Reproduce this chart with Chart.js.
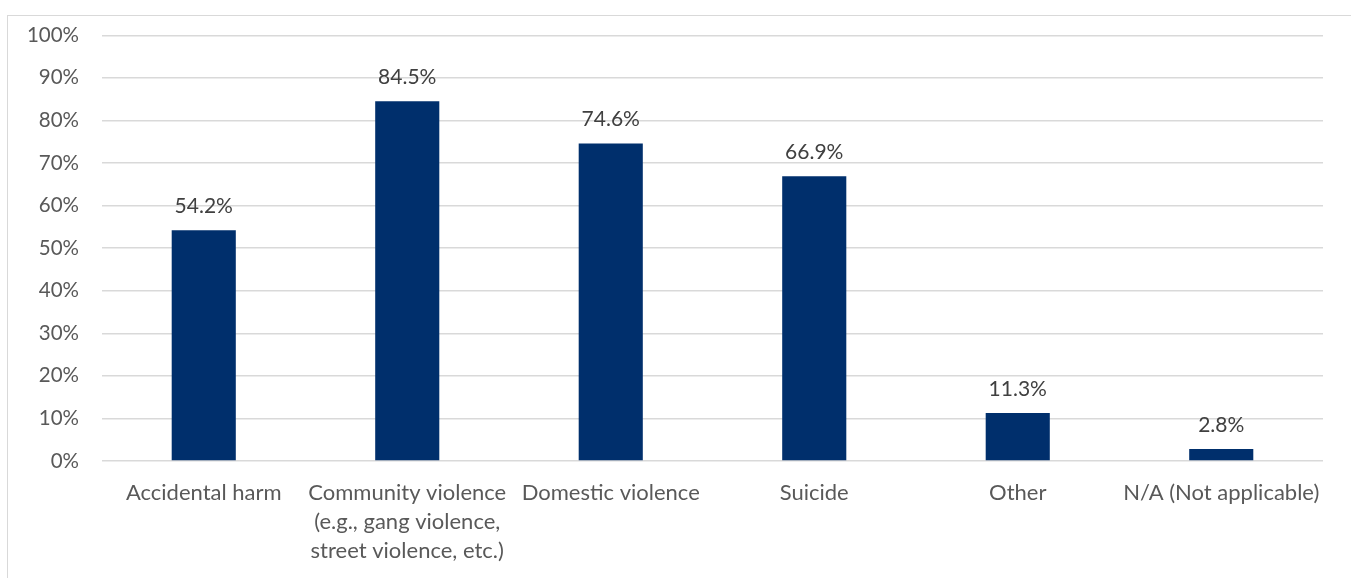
<!DOCTYPE html>
<html lang="en">
<head>
  <meta charset="UTF-8">
  <title>Types of violence</title>
  <style>
    html, body { margin: 0; padding: 0; background: #fff; }
    body { width: 1351px; height: 578px; position: relative; overflow: hidden; }
    .frame { position: absolute; left: 7px; top: 15px; width: 1400px; height: 620px; border: 1px solid #d9d9d9; }
    .wrap { position: absolute; left: 0; top: 0; width: 1351px; height: 578px; }
  </style>
</head>
<body>
  <div class="frame"></div>
  <div class="wrap"><canvas id="myChart"></canvas></div>

  <script src="https://cdn.jsdelivr.net/npm/chart.js"></script>
  <script>
    // chart data
    const categories = [
      'Accidental harm',
      ['Community violence', '(e.g., gang violence,', 'street violence, etc.)'],
      'Domestic violence',
      'Suicide',
      'Other',
      'N/A (Not applicable)'
    ];
    const percents = [54.2, 84.5, 74.6, 66.9, 11.3, 2.8];
    const yTicks = [0, 10, 20, 30, 40, 50, 60, 70, 80, 90, 100];

    const fontFamily = 'Lato, "Open Sans", sans-serif';

    // draws the value above each bar
    const valueLabels = {
      id: 'valueLabels',
      afterDatasetsDraw(chart) {
        const ctx = chart.ctx;
        const meta = chart.getDatasetMeta(0);
        ctx.save();
        ctx.font = '21px ' + fontFamily;
        ctx.fillStyle = '#404040';
        ctx.textAlign = 'center';
        ctx.textBaseline = 'alphabetic';
        meta.data.forEach((bar, i) => {
          ctx.fillText(percents[i].toFixed(1) + '%', bar.x, bar.y - 17);
        });
        ctx.restore();
      }
    };

    const ctx = document.getElementById('myChart').getContext('2d');
    const myChart = new Chart(ctx, {
      type: 'bar',
      data: {
        labels: categories,
        datasets: [{
          data: percents,
          backgroundColor: '#002F6C',
          barPercentage: 0.315,
          categoryPercentage: 1
        }]
      },
      options: {
        responsive: true,
        maintainAspectRatio: false,
        animation: false,
        layout: { padding: { left: 0, right: 28, top: 35, bottom: 0 } },
        plugins: {
          legend: { display: false },
          tooltip: { enabled: false }
        },
        scales: {
          y: {
            min: 0,
            max: 100,
            afterFit(scale) { scale.width = 102; },
            afterBuildTicks(scale) { scale.ticks = yTicks.map(v => ({ value: v })); },
            border: { display: false },
            grid: { color: '#d9d9d9', lineWidth: 1.5, drawTicks: false },
            ticks: {
              padding: 23,
              color: '#595959',
              font: { family: fontFamily, size: 20.5 },
              callback: v => v + '%'
            }
          },
          x: {
            afterFit(scale) { scale.height = 117; },
            border: { display: false },
            grid: { display: false },
            ticks: {
              padding: 10,
              color: '#595959',
              maxRotation: 0,
              autoSkip: false,
              font: { family: fontFamily, size: 22, lineHeight: 1.3 }
            }
          }
        }
      },
      plugins: [valueLabels]
    });
  </script>
</body>
</html>
